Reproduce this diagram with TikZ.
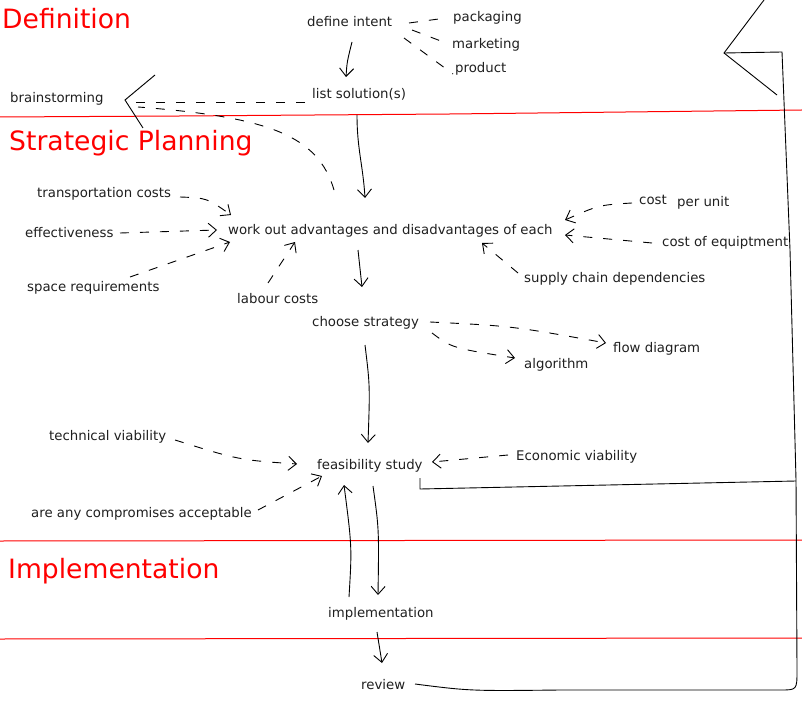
\documentclass[tikz,border=0pt]{standalone}
\usepackage{fontspec}
\setmainfont{DejaVu Sans}
\usetikzlibrary{arrows.meta,calc}
\begin{document}
\begin{tikzpicture}[x=1pt,y=-1pt,
  lbl/.style={anchor=base west, inner sep=0pt, text height=10pt, text depth=3pt, font=\fontsize{13.3}{16}\selectfont, text=black!88},
  ttl/.style={anchor=base west, inner sep=0pt, font=\fontsize{26.6}{32}\selectfont, text=red},
  sline/.style={line width=0.9pt},
  dline/.style={sline, dash pattern=on 9pt off 11pt},
  link/.style={sline, -{Straight Barb[length=8pt,width=14pt]}},
  dlink/.style={link, dash pattern=on 9pt off 11pt},
  sep/.style={red, line width=1pt}]
\useasboundingbox (0,0) rectangle (802,708);

% section separators
\draw[sep] (0,117) -- (180,116) -- (450,114) -- (802,110);
\draw[sep] (0,541) -- (802,540);
\draw[sep] (0,639) -- (802,638);

% titles
\node[ttl] (tdef) at (2,29) {Definition};
\node[ttl] (tstrat) at (9,151) {Strategic Planning};
\node[ttl] (timpl) at (8,578) {Implementation};

% labels
\node[lbl] (defint) at (307,27) {define intent};
\node[lbl] (pack) at (453,22) {packaging};
\node[lbl] (mark) at (452,49) {marketing};
\node[lbl] (prod) at (455,73) {product};
\node[lbl] (listsol) at (312,99) {list solution(s)};
\node[lbl] (brain) at (10,103) {brainstorming};
\node[lbl] (trans) at (37,198) {transportation costs};
\node[lbl] (eff) at (25,238) {effectiveness};
\node[lbl] (work) at (228,235) {work out advantages and disadvantages of each};
\node[lbl] (space) at (27,291) {space requirements};
\node[lbl] (labour) at (237,303) {labour costs};
\node[lbl] (cost) at (639,205) {cost};
\node[lbl] (perunit) at (677,207) {per unit};
\node[lbl] (costeq) at (662,247) {cost of equiptment};
\node[lbl] (supply) at (524,283) {supply chain dependencies};
\node[lbl] (choose) at (312,326) {choose strategy};
\node[lbl] (flow) at (613,352) {flow diagram};
\node[lbl] (algo) at (524,368) {algorithm};
\node[lbl] (tech) at (49,440) {technical viability};
\node[lbl] (feas) at (317,469) {feasibility study};
\node[lbl] (econ) at (516,460) {Economic viability};
\node[lbl] (comp) at (31,517) {are any compromises acceptable};
\node[lbl] (impl) at (328,617) {implementation};
\node[lbl] (review) at (361,689) {review};

% Definition connectors
\draw[link] ($(defint.base west)+(45,15)$) .. controls ($(defint.base west)+(40,35)$) .. ($(listsol.base west)+(34,-22)$);
\draw[dline] ($(defint.base west)+(102,-4)$) -- ($(pack.base west)+(-7,-4)$);
\draw[dline] ($(defint.base west)+(105,3)$) -- ($(mark.base west)+(-6,-6)$);
\draw[dline] ($(defint.base west)+(97,11)$) -- ($(prod.base west)+(-2,1)$);

% to brainstorming
\draw[dline] ($(listsol.base west)+(-7,3)$) -- ($(brain.base west)+(122,-1)$);
\draw[dline] ($(work.base west)+(106,-45)$) .. controls ($(work.base west)+(90,-100)$) and ($(work.base west)+(40,-118)$) .. ($(brain.base west)+(128,4)$);
\draw[sline] ($(brain.base west)+(145,-28)$) -- ($(brain.base west)+(115,-3)$) -- ($(brain.base west)+(133,25)$);

% list solutions -> work out
\draw[link] ($(listsol.base west)+(45,16)$) .. controls ($(listsol.base west)+(45,50)$) and ($(work.base west)+(135,-70)$) .. ($(work.base west)+(137,-37)$);

% inputs to work out
\draw[dlink] ($(trans.base west)+(143,-1)$) .. controls ($(trans.base west)+(170,0)$) .. ($(work.base west)+(3,-20)$);
\draw[dlink] ($(eff.base west)+(95,-5)$) -- ($(work.base west)+(-11,-5)$);
\draw[dlink] ($(space.base west)+(103,-14)$) -- ($(work.base west)+(2,7)$);
\draw[dlink] ($(labour.base west)+(31,-20)$) -- ($(work.base west)+(67,7)$);
\draw[dlink] ($(cost.base west)+(-7,-2)$) .. controls ($(cost.base west)+(-40,0)$) .. ($(work.base west)+(337,-15)$);
\draw[dlink] ($(costeq.base west)+(-10,-4)$) -- ($(work.base west)+(337,0)$);
\draw[dlink] ($(supply.base west)+(-6,-10)$) -- ($(work.base west)+(254,8)$);

% work out -> choose
\draw[link] ($(work.base west)+(130,15)$) -- ($(choose.base west)+(50,-39)$);

% choose strategy outputs
\draw[dlink] ($(choose.base west)+(118,-4)$) .. controls ($(choose.base west)+(200,0)$) .. ($(flow.base west)+(-7,-9)$);
\draw[dlink] ($(choose.base west)+(120,7)$) .. controls ($(choose.base west)+(140,22)$) .. ($(algo.base west)+(-9,-10)$);
\draw[link] ($(choose.base west)+(53,19)$) .. controls ($(choose.base west)+(58,60)$) .. ($(feas.base west)+(51,-26)$);

% feasibility inputs
\draw[dlink] ($(tech.base west)+(126,0)$) .. controls ($(tech.base west)+(190,20)$) .. ($(feas.base west)+(-20,-5)$);
\draw[dlink] ($(comp.base west)+(227,-7)$) -- ($(feas.base west)+(5,7)$);
\draw[dlink] ($(econ.base west)+(-8,-5)$) -- ($(feas.base west)+(115,-7)$);

% feasibility <-> implementation
\draw[link] ($(feas.base west)+(56,17)$) .. controls ($(feas.base west)+(62,60)$) .. ($(impl.base west)+(50,-22)$);
\draw[link] ($(impl.base west)+(21,-20)$) .. controls ($(impl.base west)+(24,-70)$) .. ($(feas.base west)+(27,16)$);
\draw[link] ($(impl.base west)+(49,15)$) -- ($(review.base west)+(21,-26)$);

% feedback loop
\coordinate (loopend) at (724,53);
\draw[sline] ($(review.base west)+(54,-5)$) .. controls (470,691) .. (560,690) -- (780,690) .. controls (797,690) .. (797,670) -- (796,480) -- (790,250) -- (782,52) -- (loopend);
\draw[sline] (764,0) -- (loopend) -- (777,95);
\draw[sline] ($(feas.base west)+(103,9)$) -- ($(feas.base west)+(103,20)$) -- (796,481);
\end{tikzpicture}
\end{document}
